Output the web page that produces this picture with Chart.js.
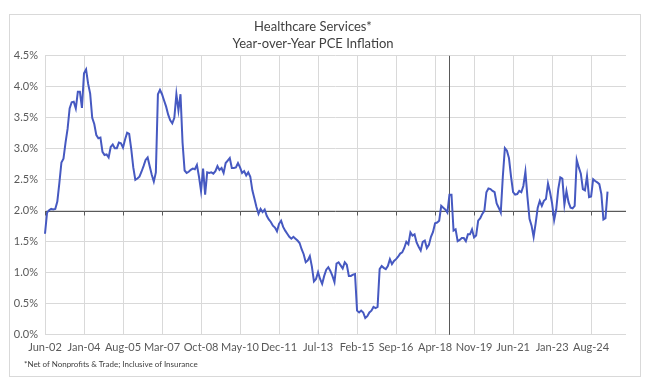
<!DOCTYPE html>
<html>
<head>
<meta charset="utf-8">
<script src="https://cdn.jsdelivr.net/npm/chart.js@4/dist/chart.umd.min.js"></script>
<style>
  html, body { margin: 0; padding: 0; background: #fff; }
  #wrap { position: relative; width: 648px; height: 389px; }
  #frame { position: absolute; left: 9px; top: 14px; width: 630px; height: 361px; border: 1px solid #d9d9d9; }
  #note { position: absolute; left: 24px; top: 359px; font: 8px Lato, sans-serif; color: #404040; }
  canvas { position: absolute; left: 0; top: 0; }
</style>
</head>
<body>
<div id="wrap">
  <div id="frame"></div>
  <canvas id="pceChart" width="648" height="389"></canvas>
  <div id="note">*Net of Nonprofits &amp; Trade; Inclusive of Insurance</div>
</div>
<script>
// monthly series, Jun-02 .. Apr-25 (% y/y)
const inflation = [
  1.63, 1.97, 2.01, 2.03, 2.02, 2.03, 2.15, 2.45, 2.78, 2.84, 3.10, 3.32,
  3.65, 3.75, 3.76, 3.65, 3.92, 3.92, 3.66, 4.22, 4.28, 4.05, 3.89, 3.50,
  3.40, 3.22, 3.17, 3.18, 2.95, 2.90, 2.91, 2.86, 3.03, 3.07, 3.01, 3.01,
  3.10, 3.09, 3.02, 3.15, 3.26, 3.24, 3.00, 2.70, 2.50, 2.52, 2.55, 2.63,
  2.72, 2.82, 2.86, 2.72, 2.58, 2.47, 2.62, 3.88, 3.95, 3.88, 3.78, 3.68,
  3.55, 3.46, 3.41, 3.50, 3.88, 3.62, 3.88, 3.10, 2.65, 2.61, 2.63, 2.66,
  2.68, 2.67, 2.74, 2.55, 2.32, 2.68, 2.26, 2.62, 2.61, 2.62, 2.60, 2.64,
  2.72, 2.66, 2.69, 2.61, 2.77, 2.81, 2.85, 2.69, 2.69, 2.70, 2.77, 2.70,
  2.61, 2.64, 2.57, 2.62, 2.55, 2.33, 2.20, 2.06, 1.95, 2.03, 1.98, 2.02,
  1.92, 1.86, 1.82, 1.76, 1.73, 1.67, 1.79, 1.84, 1.74, 1.68, 1.63, 1.58,
  1.55, 1.58, 1.55, 1.52, 1.48, 1.38, 1.30, 1.17, 1.20, 1.27, 1.10, 0.86,
  0.90, 1.01, 0.90, 0.82, 0.95, 1.05, 1.09, 1.03, 0.95, 0.85, 1.15, 1.17,
  1.12, 1.07, 1.17, 1.13, 0.95, 0.95, 0.97, 0.98, 0.39, 0.36, 0.39, 0.36,
  0.27, 0.30, 0.36, 0.39, 0.45, 0.43, 0.45, 1.06, 1.11, 1.08, 1.06, 1.11,
  1.22, 1.14, 1.19, 1.22, 1.26, 1.31, 1.33, 1.40, 1.50, 1.46, 1.65, 1.60,
  1.62, 1.49, 1.42, 1.36, 1.50, 1.52, 1.40, 1.45, 1.58, 1.66, 1.80, 1.81,
  1.84, 2.08, 2.05, 2.02, 1.97, 2.26, 2.26, 1.68, 1.70, 1.51, 1.53, 1.56,
  1.56, 1.51, 1.62, 1.62, 1.70, 1.57, 1.60, 1.84, 1.88, 1.95, 2.00, 2.30,
  2.36, 2.35, 2.32, 2.30, 2.12, 2.05, 1.97, 2.55, 3.01, 2.97, 2.85, 2.55,
  2.30, 2.26, 2.27, 2.32, 2.30, 2.40, 2.63, 2.22, 1.87, 1.76, 1.58, 1.80,
  2.05, 2.16, 2.08, 2.16, 2.19, 2.44, 2.30, 2.12, 1.85, 2.02, 2.35, 2.54,
  2.52, 2.10, 2.32, 2.14, 2.05, 2.04, 2.08, 2.82, 2.70, 2.60, 2.35, 2.33,
  2.56, 2.22, 2.23, 2.51, 2.48, 2.46, 2.43, 2.27, 1.86, 1.88, 2.31
];

const tickLabels = ["Jun-02", "Jan-04", "Aug-05", "Mar-07", "Oct-08", "May-10", "Dec-11",
  "Jul-13", "Feb-15", "Sep-16", "Apr-18", "Nov-19", "Jun-21", "Jan-23", "Aug-24"];

const monthNames = ["Jan", "Feb", "Mar", "Apr", "May", "Jun", "Jul", "Aug", "Sep", "Oct", "Nov", "Dec"];
const firstYear = 2002, firstMonth = 5;   // Jun-02
const lastYear = 2026, lastMonth = 0;     // category axis runs to Jan-26

const axisCrossValue = 2.0;      // horizontal axis crosses here
const axisCrossLabel = "Nov-18"; // vertical axis crosses here

// category labels, one per month
const labels = [];
for (let y = firstYear, m = firstMonth; y < lastYear || (y === lastYear && m <= lastMonth); ) {
  labels.push(monthNames[m] + "-" + String(y % 100).padStart(2, "0"));
  m++;
  if (m > 11) { m = 0; y++; }
}

const shown = (i) => tickLabels.includes(labels[i]);

// dark axis lines at 2.0% and Nov-18, like the excel original
const crossLines = {
  id: "crossLines",
  beforeDatasetsDraw(chart) {
    const { ctx, chartArea: a, scales } = chart;
    const yPix = Math.round(scales.y.getPixelForValue(axisCrossValue)) + 0.5;
    const xPix = Math.round(scales.x.getPixelForValue(labels.indexOf(axisCrossLabel))) + 0.5;
    ctx.save();
    ctx.strokeStyle = "#595959";
    ctx.lineWidth = 1;
    ctx.beginPath();
    ctx.moveTo(a.left, yPix);
    ctx.lineTo(a.right, yPix);
    tickLabels.forEach((l) => {
      const px = Math.round(scales.x.getPixelForValue(labels.indexOf(l))) + 0.5;
      ctx.moveTo(px, yPix);
      ctx.lineTo(px, yPix + 4);
    });
    ctx.moveTo(xPix, a.top);
    ctx.lineTo(xPix, a.bottom);
    ctx.stroke();
    ctx.restore();
  },
};

Chart.defaults.font.family = "Lato, sans-serif";
Chart.defaults.color = "#595959";

new Chart(document.getElementById("pceChart"), {
  type: "line",
  data: {
    labels,
    datasets: [{
      label: "Healthcare Services",
      data: inflation,
      borderColor: "#4659c1",
      borderWidth: 2,
      pointRadius: 0,
      tension: 0,
      fill: false,
    }],
  },
  options: {
    responsive: false,
    animation: false,
    layout: { padding: { left: 0, right: 22, top: 0, bottom: 29 } },
    plugins: {
      legend: { display: false },
      tooltip: { enabled: false },
      title: {
        display: true,
        text: ["Healthcare Services*", "Year-over-Year PCE Inflation"],
        color: "#404040",
        font: { size: 13, weight: "normal", lineHeight: 1.3 },
        padding: { top: 18, bottom: 4 },
      },
    },
    scales: {
      x: {
        type: "category",
        offset: false,
        border: { display: false },
        grid: {
          drawTicks: false,
          color: (c) => (shown(c.index) ? "#d9d9d9" : "rgba(0,0,0,0)"),
        },
        ticks: {
          autoSkip: false,
          maxRotation: 0,
          minRotation: 0,
          padding: 6,
          font: { size: 11 },
          callback: (v, i) => (shown(i) ? labels[i] : ""),
        },
      },
      y: {
        min: 0,
        max: 4.5,
        border: { display: false },
        grid: { drawTicks: false, color: "#d9d9d9" },
        ticks: {
          stepSize: 0.5,
          padding: 7,
          font: { size: 11 },
          callback: (v) => v.toFixed(1) + "%",
        },
        afterFit: (s) => { s.width = 45; },
      },
    },
  },
  plugins: [crossLines],
});
</script>
</body>
</html>
